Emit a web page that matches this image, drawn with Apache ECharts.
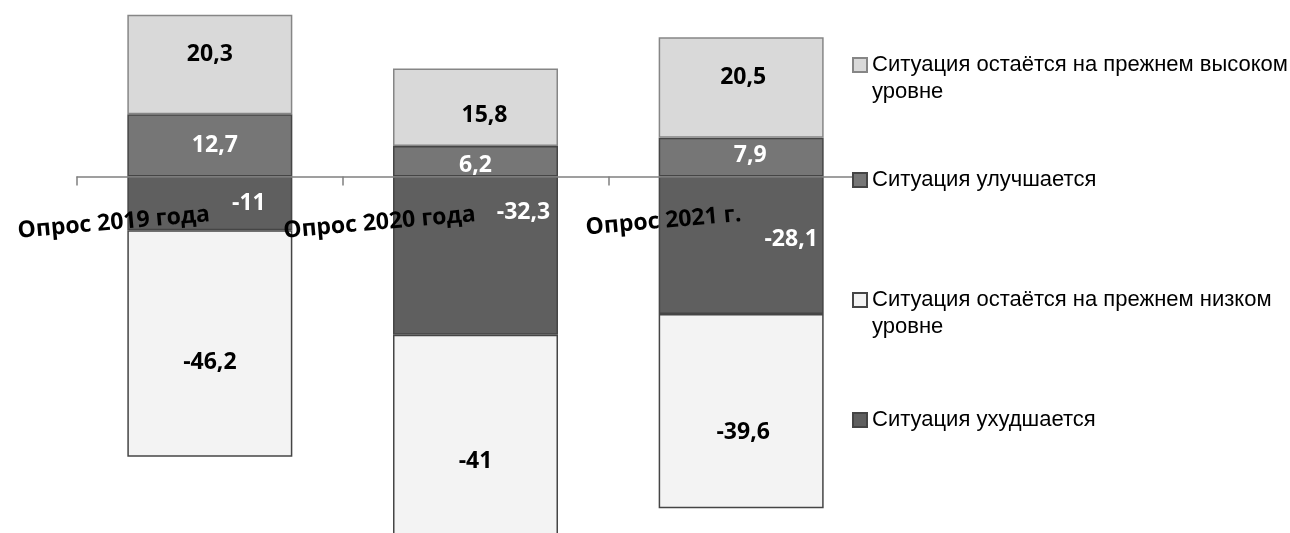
<!DOCTYPE html>
<html>
<head>
<meta charset="utf-8">
<script src="https://cdn.jsdelivr.net/npm/echarts@6/dist/echarts.min.js"></script>
<style>
  html, body { margin: 0; padding: 0; background: #fff; }
  #chart { width: 1290px; height: 533px; }
</style>
</head>
<body>
<div id="chart"></div>
<script>
// данные опросов
var categories = ['Опрос 2019 года', 'Опрос 2020 года', 'Опрос 2021 г.'];
var highLevel = [20.3, 15.8, 20.5];     // остаётся на прежнем высоком уровне
var improving = [12.7, 6.2, 7.9];       // улучшается
var worsening = [-11, -32.3, -28.1];    // ухудшается
var lowLevel = [-46.2, -41, -39.6];     // остаётся на прежнем низком уровне

var names = {
    high: 'Ситуация остаётся на прежнем высоком уровне',
    up: 'Ситуация улучшается',
    low: 'Ситуация остаётся на прежнем низком уровне',
    down: 'Ситуация ухудшается'
};

// сдвиги подписей (как в исходной диаграмме)
var shifts = {
    high: [[0, -10], [9, 8], [2, -10]],
    up: [[5, 0], [0, 4], [9, -2]],
    down: [[39, 0], [48, -43], [50, -6]],
    low: [[0, 19], [0, 26], [2, 21]]
};

var valueFont = { fontFamily: 'Open Sans', fontWeight: 'bold', fontSize: 23 };

function fmt(v) { return String(v).replace('.', ','); }

function makeData(values, key) {
    return values.map(function (v, i) {
        return { value: v, label: { offset: shifts[key][i] } };
    });
}

function makeSeries(key, values, fill, border, textColor) {
    return {
        name: names[key],
        type: 'bar',
        stack: 'all',
        barWidth: 165,
        clip: false,
        data: makeData(values, key),
        itemStyle: { color: fill, borderColor: border, borderWidth: 1.5 },
        label: Object.assign({
            show: true,
            position: 'inside',
            color: textColor,
            formatter: function (p) { return fmt(p.value); }
        }, valueFont),
        emphasis: { disabled: true }
    };
}

function makeLegend(key, top, twoLines) {
    return {
        left: 852,
        top: top,
        z: 20,
        padding: 0,
        backgroundColor: '#fff',
        selectedMode: false,
        icon: 'rect',
        itemWidth: 14,
        itemHeight: 14,
        data: [names[key]],
        // для двухстрочных подписей пустая первая строка, чтобы значок стоял у первой строки текста
        formatter: function (n) {
            return twoLines ? '\n' + n.replace(' уровне', '\nуровне') : n;
        },
        textStyle: { fontFamily: 'Liberation Sans', fontSize: 22, color: '#000', lineHeight: 27 }
    };
}

var chart = echarts.init(document.getElementById('chart'));

var option = {
    animation: false,
    backgroundColor: '#fff',
    // сетка заканчивается на нуле, отрицательные столбцы рисуются ниже без обрезки
    grid: { left: 77, top: 0, width: 797, height: 176.4, outerBoundsMode: 'none', containLabel: false },
    legend: [
        makeLegend('high', 24.5, true),
        makeLegend('up', 166.5, false),
        makeLegend('low', 259.5, true),
        makeLegend('down', 406.5, false)
    ],
    xAxis: {
        type: 'category',
        data: categories,
        z: 10,
        boundaryGap: true,
        axisLine: { show: true, lineStyle: { color: '#808080', width: 1.5 } },
        axisTick: { show: true, alignWithLabel: false, interval: 0, length: 9, lineStyle: { color: '#808080', width: 1.5 } },
        axisLabel: {
            interval: 0,
            rotate: 5,
            margin: 38,
            color: '#000',
            fontFamily: 'Open Sans',
            fontWeight: 'bold',
            fontSize: 23
        }
    },
    yAxis: {
        type: 'value',
        min: 0,
        max: 36,
        show: false,
        splitLine: { show: false }
    },
    series: [
        makeSeries('up', improving, '#767676', '#454545', '#fff'),
        makeSeries('down', worsening, '#5f5f5f', '#454545', '#fff'),
        makeSeries('high', highLevel, '#d9d9d9', '#868686', '#000'),
        makeSeries('low', lowLevel, '#f3f3f3', '#454545', '#000')
    ]
};

chart.setOption(option);
</script>
</body>
</html>
